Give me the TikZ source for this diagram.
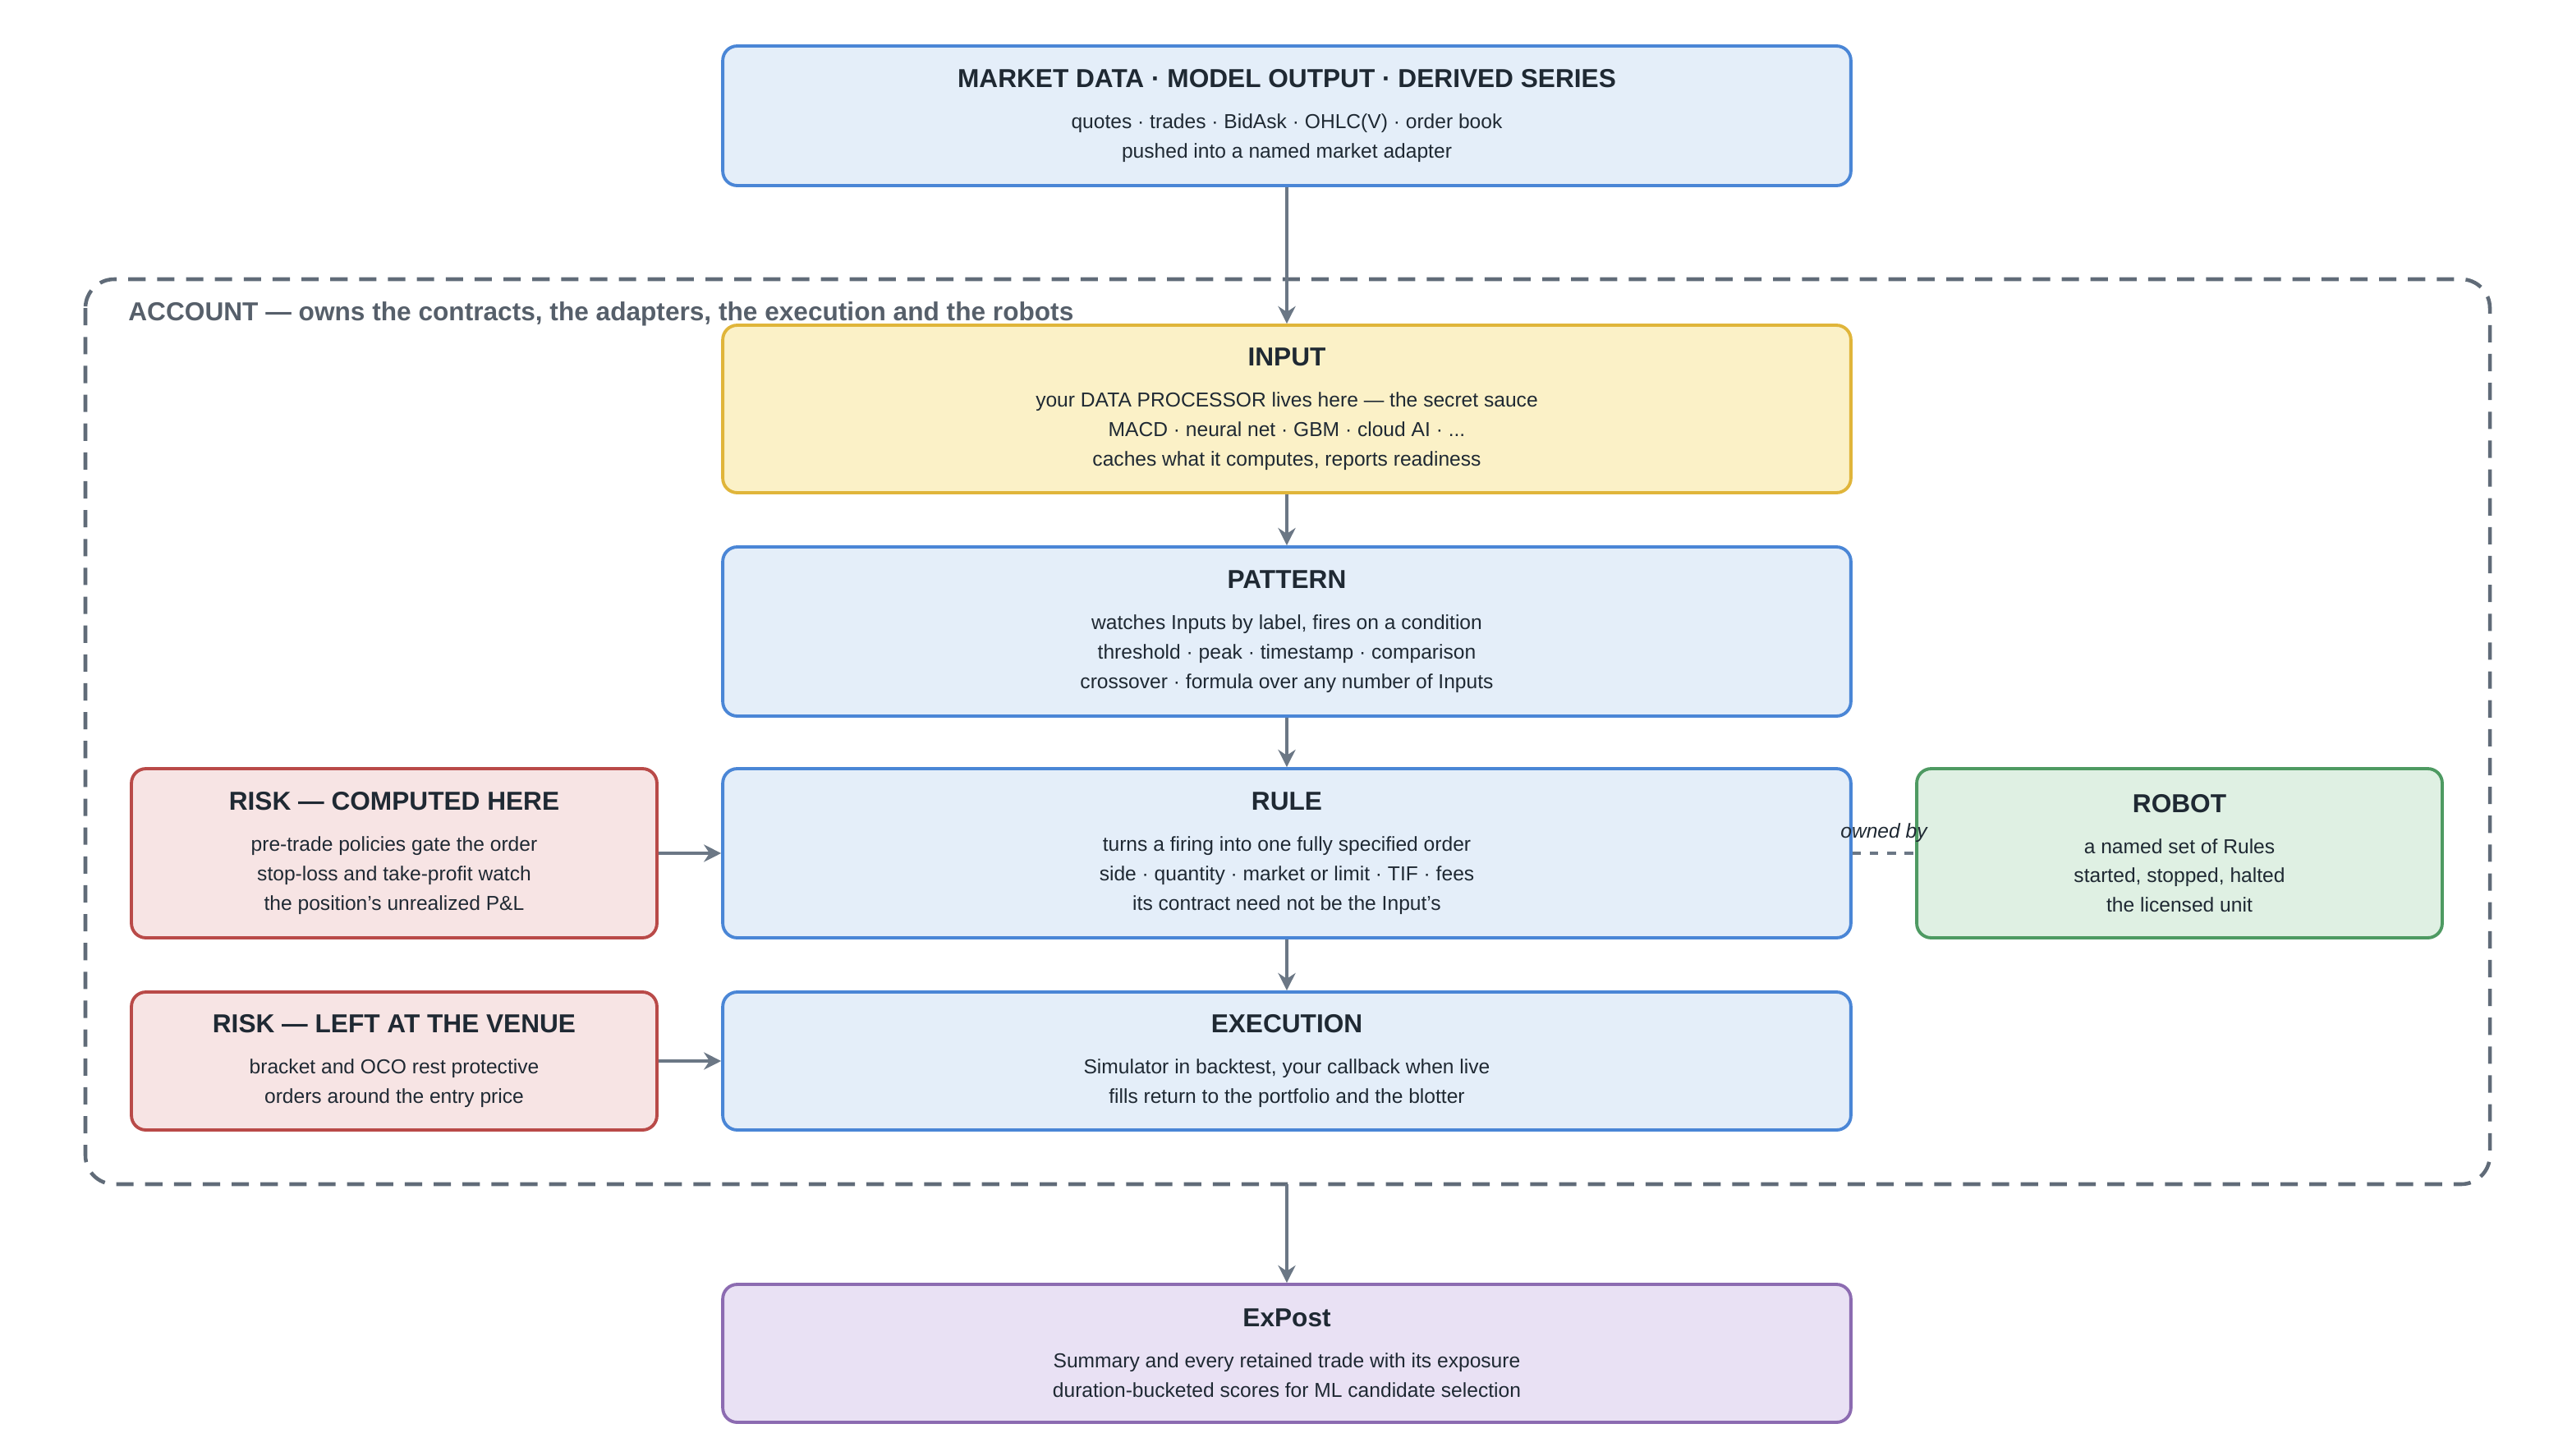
\documentclass[tikz,border=0pt]{standalone}
\usepackage{fontspec}
\setmainfont{Liberation Sans}
\usetikzlibrary{positioning,arrows.meta}
\definecolor{ink}{HTML}{1F2933}
\definecolor{wire}{HTML}{6B7785}
\definecolor{bluefill}{HTML}{E4EEF9}
\definecolor{blueline}{HTML}{4A86D6}
\definecolor{yelfill}{HTML}{FBF1C7}
\definecolor{yelline}{HTML}{E0B53A}
\definecolor{redfill}{HTML}{F7E4E4}
\definecolor{redline}{HTML}{B94A48}
\definecolor{grnfill}{HTML}{DFF0E3}
\definecolor{grnline}{HTML}{4E9A62}
\definecolor{purfill}{HTML}{E9E1F4}
\definecolor{purline}{HTML}{8C6BB1}
\tikzset{box/.style={draw,rounded corners=5pt,line width=1.1pt,align=center,text=ink,
           font=\fontsize{7}{10.2}\selectfont,inner sep=0pt},
         wide/.style={box,minimum width=13.74cm},
         side/.style={box,minimum width=6.4cm},
         blue/.style={fill=bluefill,draw=blueline},
         flow/.style={draw=wire,line width=1.2pt,-{Stealth[length=6pt,width=6pt]}}}
\newcommand{\ttl}[1]{{\fontsize{9}{11}\selectfont\bfseries #1}\\[4pt]}
\begin{document}
\begin{tikzpicture}[x=0.02cm,y=-0.02cm]
\useasboundingbox (0,0) rectangle (1552,886);
% account frame
\draw[wire!90!black,dashed,line width=1.3pt,dash pattern=on 6pt off 4pt,rounded corners=10pt]
  (52,170) rectangle (1516,721);
\node[anchor=west,text=wire!80!black,font=\fontsize{9}{11}\selectfont\bfseries] (acct) at (72,191)
  {ACCOUNT — owns the contracts, the adapters, the execution and the robots};
\coordinate (acctbot) at (783.5,721);
% boxes
\node[wide,blue,minimum height=1.7cm] (market) at (783.5,70.5)
  {\ttl{MARKET DATA · MODEL OUTPUT · DERIVED SERIES}quotes · trades · BidAsk · OHLC(V) · order book\\pushed into a named market adapter};
\node[wide,fill=yelfill,draw=yelline,minimum height=2.04cm] (input) at (783.5,249)
  {\ttl{INPUT}your DATA PROCESSOR lives here — the secret sauce\\MACD · neural net · GBM · cloud AI · ...\\caches what it computes, reports readiness};
\node[wide,blue,minimum height=2.06cm] (pattern) at (783.5,384.5)
  {\ttl{PATTERN}watches Inputs by label, fires on a condition\\threshold · peak · timestamp · comparison\\crossover · formula over any number of Inputs};
\node[wide,blue,minimum height=2.06cm] (rule) at (783.5,519.5)
  {\ttl{RULE}turns a firing into one fully specified order\\side · quantity · market or limit · TIF · fees\\its contract need not be the Input's};
\node[wide,blue,minimum height=1.68cm] (exec) at (783.5,646)
  {\ttl{EXECUTION}Simulator in backtest, your callback when live\\fills return to the portfolio and the blotter};
\node[side,fill=redfill,draw=redline,minimum height=2.06cm] (riskhere) at (240,519.5)
  {\ttl{RISK — COMPUTED HERE}pre-trade policies gate the order\\stop-loss and take-profit watch\\the position's unrealized P\&L};
\node[side,fill=redfill,draw=redline,minimum height=1.68cm] (riskvenue) at (240,646)
  {\ttl{RISK — LEFT AT THE VENUE}bracket and OCO rest protective\\orders around the entry price};
\node[side,fill=grnfill,draw=grnline,minimum height=2.06cm] (robot) at (1327,519.5)
  {\ttl{ROBOT}a named set of Rules\\started, stopped, halted\\the licensed unit};
\node[wide,fill=purfill,draw=purline,minimum height=1.68cm] (expost) at (783.5,824)
  {\ttl{ExPost}Summary and every retained trade with its exposure\\duration-bucketed scores for ML candidate selection};
% connectors
\draw[flow] (market) -- (input);
\draw[flow] (input) -- (pattern);
\draw[flow] (pattern) -- (rule);
\draw[flow] (rule) -- (exec);
\draw[flow] (riskhere) -- (rule);
\draw[flow] (riskvenue) -- (exec);
\draw[flow] (acctbot) -- (expost);
\draw[wire,dashed,line width=0.9pt] (rule) -- node[above,text=ink,font=\fontsize{7}{8}\selectfont\itshape] {owned by} (robot);
\end{tikzpicture}
\end{document}
